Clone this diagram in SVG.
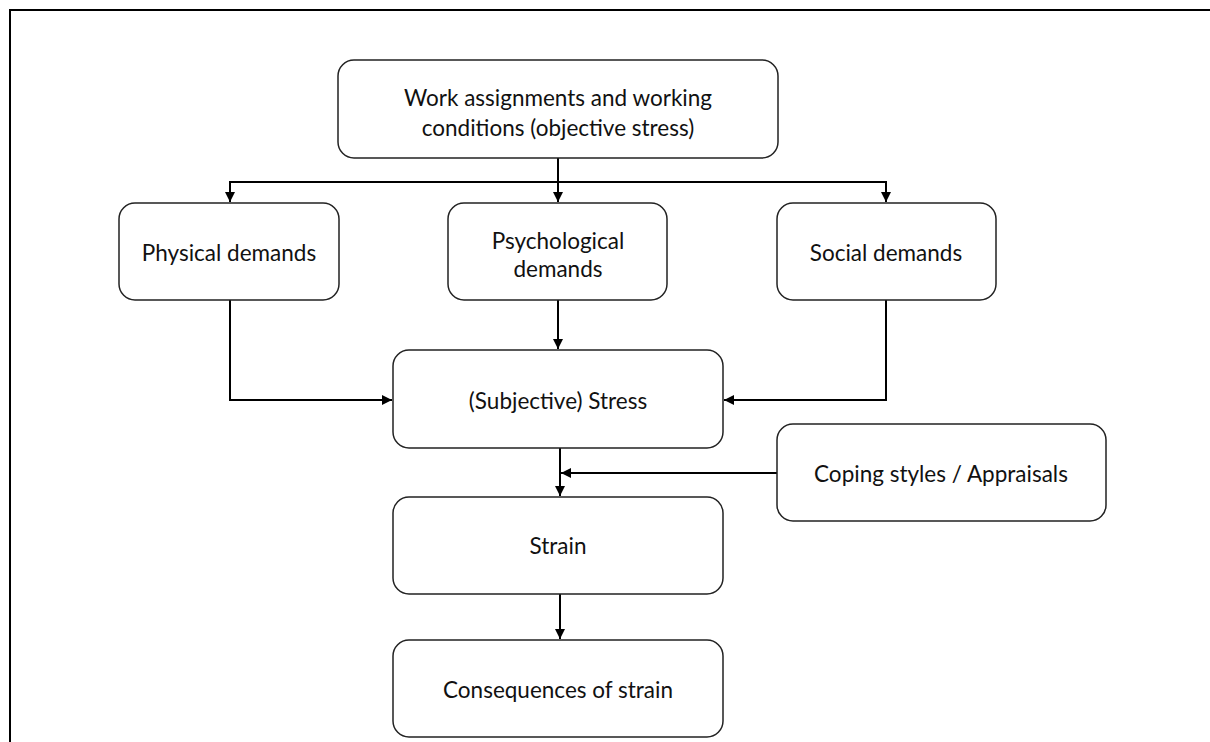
<svg xmlns="http://www.w3.org/2000/svg" width="1210" height="742" viewBox="0 0 1210 742">
<defs>
<marker id="ah" viewBox="0 0 10 10" refX="10" refY="5" markerWidth="5" markerHeight="5" orient="auto" markerUnits="strokeWidth">
<path d="M0,0 L10,5 L0,10 z" fill="#000"/>
</marker>
<style>
.box{fill:#fff;stroke:#222;stroke-width:1.5}
.t{font-family:Lato,"Open Sans","Liberation Sans",sans-serif;font-size:22.5px;fill:#111;text-anchor:middle;dominant-baseline:central}
.c{fill:none;stroke:#000;stroke-width:2}
.frame{fill:none;stroke:#000;stroke-width:2}
</style>
</defs>
<rect width="1210" height="742" fill="#fff"/>
<path class="frame" d="M10,742 V10 H1210"/>
<g id="connectors">
<path class="c" d="M558,158 V202" marker-end="url(#ah)"/>
<path class="c" d="M230,202 V182 H886 V202" marker-end="url(#ah)"/>
<path class="c" d="M230,182 V202" marker-end="url(#ah)"/>
<path class="c" d="M558,300 V349" marker-end="url(#ah)"/>
<path class="c" d="M230,300 V400 H392" marker-end="url(#ah)"/>
<path class="c" d="M886,300 V400 H724" marker-end="url(#ah)"/>
<path class="c" d="M560,448 V496" marker-end="url(#ah)"/>
<path class="c" d="M777,473 H561" marker-end="url(#ah)"/>
<path class="c" d="M560,594 V639" marker-end="url(#ah)"/>
</g>
<g id="n-work">
<rect class="box" x="338" y="60" width="440" height="98" rx="16"/>
<text class="t" x="558" y="97">Work assignments and working</text>
<text class="t" x="558" y="127">conditions (objective stress)</text>
</g>
<g id="n-physical">
<rect class="box" x="119" y="203" width="220" height="97" rx="16"/>
<text class="t" x="229" y="252">Physical demands</text>
</g>
<g id="n-psych">
<rect class="box" x="448" y="203" width="219" height="97" rx="16"/>
<text class="t" x="558" y="240">Psychological</text>
<text class="t" x="558" y="268">demands</text>
</g>
<g id="n-social">
<rect class="box" x="777" y="203" width="219" height="97" rx="16"/>
<text class="t" x="886" y="252">Social demands</text>
</g>
<g id="n-stress">
<rect class="box" x="393" y="350" width="330" height="98" rx="16"/>
<text class="t" x="558" y="400">(Subjective) Stress</text>
</g>
<g id="n-coping">
<rect class="box" x="777" y="424" width="329" height="97" rx="16"/>
<text class="t" x="941" y="473">Coping styles / Appraisals</text>
</g>
<g id="n-strain">
<rect class="box" x="393" y="497" width="330" height="97" rx="16"/>
<text class="t" x="558" y="545">Strain</text>
</g>
<g id="n-consequences">
<rect class="box" x="393" y="640" width="330" height="97" rx="16"/>
<text class="t" x="558" y="689">Consequences of strain</text>
</g>
</svg>
